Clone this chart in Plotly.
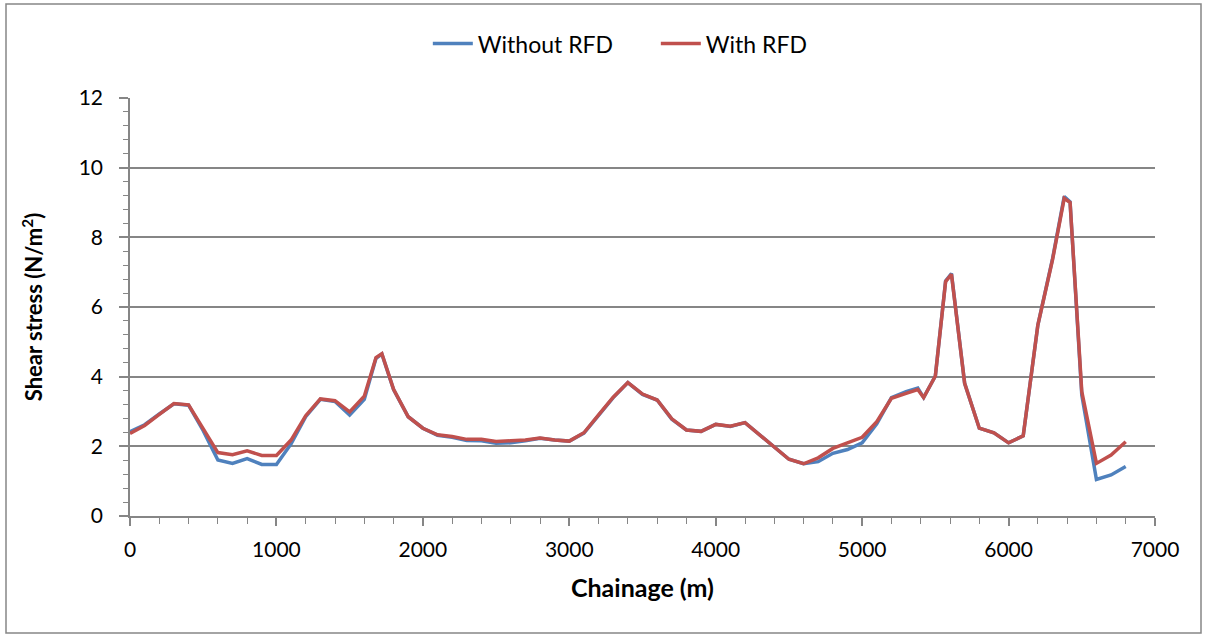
import plotly.graph_objects as go

# Chainage along the reach (m)
chainage = [0, 100, 200, 300, 400, 500, 600, 700, 800, 900, 1000, 1100, 1200,
            1300, 1400, 1500, 1600, 1680, 1720, 1800, 1900, 2000, 2100, 2200,
            2300, 2400, 2500, 2600, 2700, 2800, 2900, 3000, 3100, 3200, 3300,
            3400, 3500, 3600, 3700, 3800, 3900, 4000, 4100, 4200, 4300, 4400,
            4500, 4600, 4700, 4800, 4900, 5000, 5100, 5200, 5300, 5380, 5420,
            5500, 5570, 5610, 5700, 5800, 5900, 6000, 6100, 6200, 6300, 6380,
            6420, 6500, 6600, 6700, 6800]

# Bed shear stress (N/m2)
without_rfd = [2.42, 2.62, 2.93, 3.22, 3.18, 2.45, 1.61, 1.51, 1.65, 1.48, 1.48,
               2.07, 2.85, 3.35, 3.29, 2.90, 3.35, 4.53, 4.65, 3.63, 2.85, 2.52,
               2.32, 2.26, 2.17, 2.16, 2.09, 2.10, 2.16, 2.23, 2.18, 2.15, 2.38,
               2.89, 3.40, 3.83, 3.49, 3.33, 2.78, 2.47, 2.43, 2.63, 2.57, 2.68,
               2.33, 1.97, 1.63, 1.50, 1.56, 1.80, 1.91, 2.10, 2.65, 3.40, 3.57,
               3.67, 3.40, 4.02, 6.75, 6.96, 3.81, 2.52, 2.39, 2.10, 2.30, 5.48,
               7.38, 9.17, 9.02, 3.47, 1.05, 1.18, 1.42]

with_rfd = [2.37, 2.60, 2.92, 3.23, 3.19, 2.52, 1.82, 1.76, 1.87, 1.74, 1.74,
            2.18, 2.88, 3.36, 3.31, 2.99, 3.44, 4.55, 4.66, 3.64, 2.85, 2.52,
            2.33, 2.28, 2.20, 2.20, 2.14, 2.16, 2.18, 2.24, 2.18, 2.15, 2.39,
            2.90, 3.41, 3.83, 3.50, 3.33, 2.79, 2.47, 2.43, 2.63, 2.58, 2.68,
            2.33, 1.97, 1.63, 1.50, 1.67, 1.94, 2.10, 2.26, 2.71, 3.38, 3.52,
            3.63, 3.40, 4.02, 6.73, 6.94, 3.81, 2.52, 2.39, 2.10, 2.30, 5.48,
            7.35, 9.12, 9.00, 3.57, 1.51, 1.75, 2.13]

FONT = "Lato"
GRID = "#868686"

fig = go.Figure()
fig.add_trace(go.Scatter(x=chainage, y=without_rfd, mode="lines", name="Without RFD",
                         line=dict(color="#4F81BD", width=3.5)))
fig.add_trace(go.Scatter(x=chainage, y=with_rfd, mode="lines", name="With RFD",
                         line=dict(color="#C0504D", width=3.5)))

fig.update_layout(
    width=1207, height=637,
    margin=dict(l=130, r=52, t=98, b=121, autoexpand=False),
    paper_bgcolor="white", plot_bgcolor="white",
    font=dict(family=FONT, size=21, color="black"),
    showlegend=True,
    legend=dict(orientation="h", x=0.513, xanchor="center", y=1.13, yanchor="middle",
                font=dict(size=23), bgcolor="rgba(0,0,0,0)", itemwidth=40,
                entrywidth=173, entrywidthmode="pixels", tracegroupgap=0),
    xaxis=dict(
        range=[0, 7000], tickmode="linear", tick0=0, dtick=1000,
        showgrid=False, zeroline=False,
        showline=True, linecolor=GRID, linewidth=1.5,
        ticks="outside", ticklen=8, tickcolor=GRID, tickwidth=1.5,
        minor=dict(dtick=200, ticks="outside", ticklen=6, tickcolor=GRID, tickwidth=1.2),
        title=dict(text="<b>Chainage (m)</b>", font=dict(size=25), standoff=20),
        ticklabelstandoff=6,
    ),
    yaxis=dict(
        range=[0, 12], tickmode="linear", tick0=0, dtick=2,
        showgrid=True, gridcolor=GRID, gridwidth=1.5, zeroline=False,
        showline=True, linecolor=GRID, linewidth=1.5,
        ticks="outside", ticklen=9, tickcolor=GRID, tickwidth=1.5,
        minor=dict(dtick=0.4, ticks="outside", ticklen=5, tickcolor=GRID, tickwidth=1.2,
                   showgrid=False),
        title=dict(text="<b>Shear stress (N/m<sup>2</sup>)</b>", font=dict(size=22), standoff=30),
        ticklabelstandoff=12,
    ),
)

# Chart frame
fig.add_shape(type="rect", xref="paper", yref="paper",
              x0=-124 / 1025, x1=1071 / 1025, y0=-117 / 418, y1=512 / 418,
              line=dict(color=GRID, width=1.5), layer="below")

fig.write_html("out.html")
